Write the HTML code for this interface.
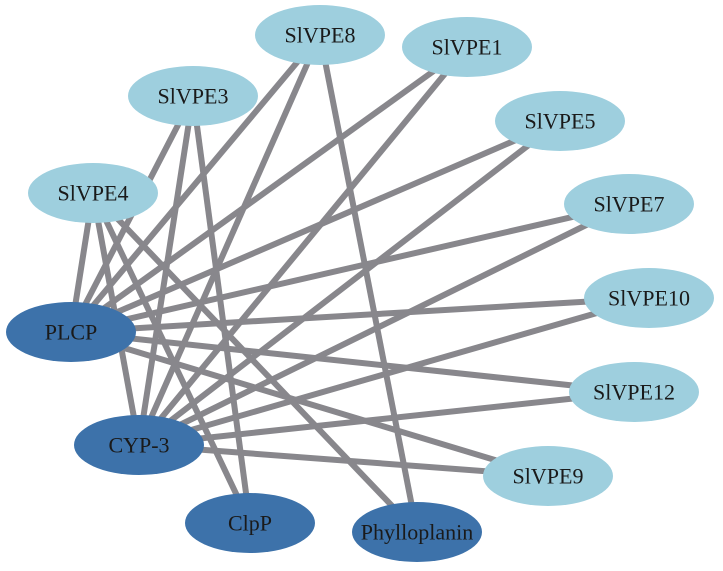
<!DOCTYPE html>
<html><head><meta charset="utf-8"><style>
html,body{margin:0;padding:0;background:#fff;}
svg{display:block;}
text{font-family:"Liberation Serif",serif;font-size:22px;fill:#1a1a1a;text-anchor:middle;dominant-baseline:central;}
</style></head><body>
<svg width="723" height="571" viewBox="0 0 723 571" xmlns="http://www.w3.org/2000/svg">
<g stroke="#88878c" stroke-width="6" stroke-linecap="butt">
<line x1="71" y1="332" x2="93" y2="193"/>
<line x1="71" y1="332" x2="193" y2="96"/>
<line x1="71" y1="332" x2="320" y2="35"/>
<line x1="71" y1="332" x2="467" y2="47"/>
<line x1="71" y1="332" x2="560" y2="121"/>
<line x1="71" y1="332" x2="629" y2="204"/>
<line x1="71" y1="332" x2="649" y2="298"/>
<line x1="71" y1="332" x2="634" y2="392"/>
<line x1="71" y1="332" x2="548" y2="476"/>
<line x1="139" y1="445" x2="93" y2="193"/>
<line x1="139" y1="445" x2="193" y2="96"/>
<line x1="139" y1="445" x2="320" y2="35"/>
<line x1="139" y1="445" x2="467" y2="47"/>
<line x1="139" y1="445" x2="560" y2="121"/>
<line x1="139" y1="445" x2="629" y2="204"/>
<line x1="139" y1="445" x2="649" y2="298"/>
<line x1="139" y1="445" x2="634" y2="392"/>
<line x1="139" y1="445" x2="548" y2="476"/>
<line x1="250" y1="523" x2="193" y2="96"/>
<line x1="250" y1="523" x2="93" y2="193"/>
<line x1="417" y1="532" x2="320" y2="35"/>
<line x1="417" y1="532" x2="93" y2="193"/>
</g>
<g fill="#9ecfde">
<ellipse cx="320" cy="35" rx="65" ry="30"/>
<ellipse cx="467" cy="47" rx="65" ry="30"/>
<ellipse cx="193" cy="96" rx="65" ry="30"/>
<ellipse cx="560" cy="121" rx="65" ry="30"/>
<ellipse cx="93" cy="193" rx="65" ry="30"/>
<ellipse cx="629" cy="204" rx="65" ry="30"/>
<ellipse cx="649" cy="298" rx="65" ry="30"/>
<ellipse cx="634" cy="392" rx="65" ry="30"/>
<ellipse cx="548" cy="476" rx="65" ry="30"/>
</g>
<g fill="#3d72aa">
<ellipse cx="71" cy="332" rx="65" ry="30"/>
<ellipse cx="139" cy="445" rx="65" ry="30"/>
<ellipse cx="250" cy="523" rx="65" ry="30"/>
<ellipse cx="417" cy="532" rx="65" ry="30"/>
</g>
<text x="320" y="35">SlVPE8</text>
<text x="467" y="47">SlVPE1</text>
<text x="193" y="96">SlVPE3</text>
<text x="560" y="121">SlVPE5</text>
<text x="93" y="193">SlVPE4</text>
<text x="629" y="204">SlVPE7</text>
<text x="649" y="298">SlVPE10</text>
<text x="634" y="392">SlVPE12</text>
<text x="548" y="476">SlVPE9</text>
<text x="71" y="332">PLCP</text>
<text x="139" y="445">CYP-3</text>
<text x="250" y="523">ClpP</text>
<text x="417" y="532">Phylloplanin</text>
</svg>
</body></html>
